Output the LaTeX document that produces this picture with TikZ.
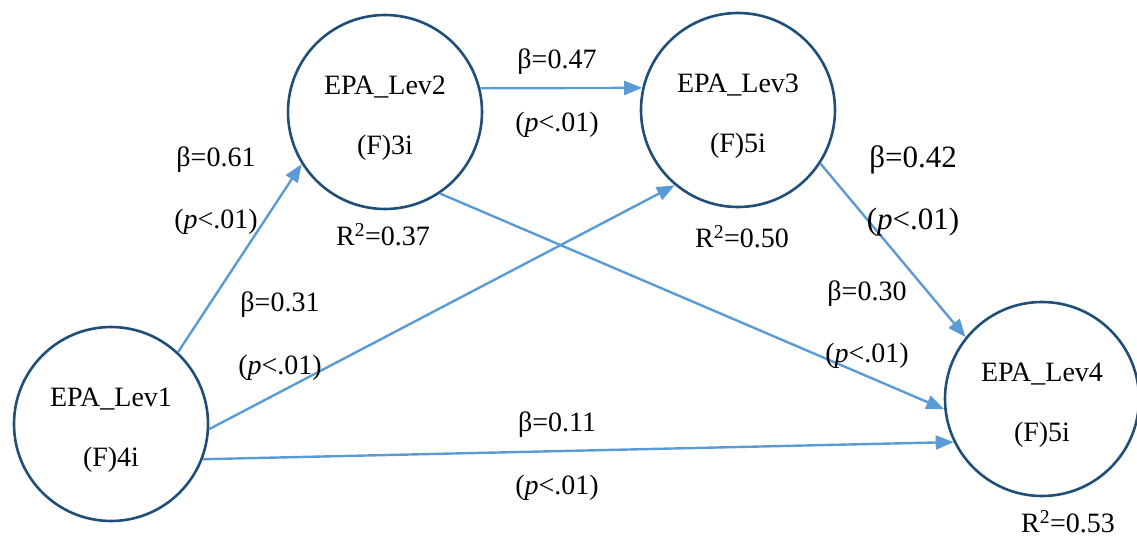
\documentclass[tikz,border=0pt]{standalone}
\usepackage{fontspec}
\setmainfont{Liberation Serif}
\usetikzlibrary{arrows.meta}
\definecolor{circ}{HTML}{1F4E79}
\definecolor{arr}{HTML}{5B9BD5}
\begin{document}
\begin{tikzpicture}[x=1pt,y=-1pt,
  lat/.style={circle,draw=circ,line width=2.6pt,minimum size=194pt,inner sep=0pt},
  intext/.style={font=\fontsize{28}{60}\selectfont,align=center,inner sep=0pt},
  conn/.style={draw=arr,line width=2.4pt,-{Triangle[length=18pt,width=14pt]}},
  lbl/.style={font=\fontsize{28}{34}\selectfont,inner sep=0pt},
  lblbig/.style={font=\fontsize{31}{36}\selectfont,inner sep=0pt},
]
\useasboundingbox (0,0) rectangle (1137,540);
\fill[white] (0,0) rectangle (1137,540);

\node[lat,label={[intext,yshift=-6pt]center:{EPA\_Lev1\\(F)4i}}] (l1) at (111,424) {};
\node[lat,label={[intext,yshift=-6pt]center:{EPA\_Lev2\\(F)3i}}] (l2) at (385,112) {};
\node[lat,label={[intext,yshift=-6pt]center:{EPA\_Lev3\\(F)5i}}] (l3) at (738,110) {};
\node[lat,label={[intext,yshift=-6pt]center:{EPA\_Lev4\\(F)5i}}] (l4) at (1042,399) {};

\draw[conn] (l1.47) -- (l2.212);
\draw[conn] (l1.-3.5) -- (l3.230);
\draw[conn] (l1.-21) -- (l4.206);
\draw[conn] (l2.14) -- (l3.167);
\draw[conn] (l2.-56) -- (l4.186);
\draw[conn] (l3.-33) -- (l4.141.6);

\node[lbl] (b61) at (216,160) {β=0.61};
\node[lbl] (p61) at (216,222) {(\textit{p}<.01)};
\node[lbl] (b31) at (280,305) {β=0.31};
\node[lbl] (p31) at (280,368) {(\textit{p}<.01)};
\node[lbl] (b47) at (557,62) {β=0.47};
\node[lbl] (p47) at (557,125) {(\textit{p}<.01)};
\node[lbl] (r37) at (383,235) {R\textsuperscript{2}=0.37};
\node[lbl] (r50) at (742,237) {R\textsuperscript{2}=0.50};
\node[lblbig] (b42) at (913,160) {β=0.42};
\node[lblbig] (p42) at (913,222) {(\textit{p}<.01)};
\node[lbl] (b30) at (867,294) {β=0.30};
\node[lbl] (p30) at (867,356) {(\textit{p}<.01)};
\node[lbl] (b11) at (557,425) {β=0.11};
\node[lbl] (p11) at (557,488) {(\textit{p}<.01)};
\node[lbl] (r53) at (1068,522) {R\textsuperscript{2}=0.53};
\end{tikzpicture}
\end{document}
